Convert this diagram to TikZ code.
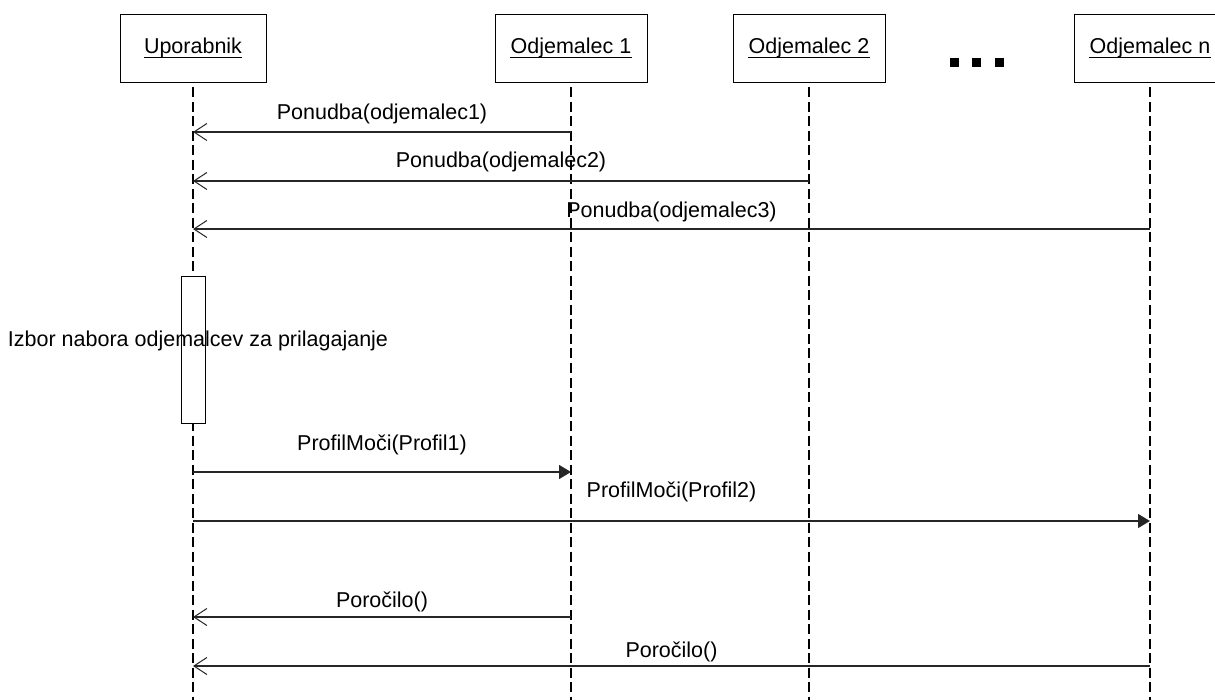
\documentclass[tikz,border=0pt]{standalone}
\usepackage{fontspec}
\setmainfont{Liberation Sans}
\usetikzlibrary{arrows.meta}
\newcommand\fsz{\fontsize{21.5}{24}\selectfont}
\begin{document}
\begin{tikzpicture}[x=1pt,y=-1pt,
  obj/.style={draw, line width=1pt, minimum width=152pt, minimum height=68pt, inner sep=0pt},
  ttl/.style={anchor=base, inner sep=0pt, font=\fsz},
  uline/.style={line width=1pt},
  life/.style={line width=2.6pt, dash pattern=on 10pt off 4.5pt},
  msg/.style={line width=1.2pt, draw=black!85},
  ret/.style={msg, -{Straight Barb[length=13pt,width=17pt,line width=1pt]}},
  call/.style={msg, -{Triangle[length=12pt,width=14pt]}},
  lbl/.style={anchor=base, inner sep=0pt, font=\fsz, text=black},
  dot/.style={fill=black, minimum size=9pt, inner sep=0pt}
]
\useasboundingbox (0,0) rectangle (1215,700);
\clip (0,0) rectangle (1215,700);

% objects
\node[obj, minimum width=146pt] (u) at (193,49) {};
\node[obj] (o1) at (571,49) {};
\node[obj] (o2) at (809,49) {};
\node[obj] (on) at (1150,49) {};

\node[ttl] (ut) at (193,54) {Uporabnik};
\node[ttl] (o1t) at (571,54) {Odjemalec 1};
\node[ttl] (o2t) at (809,54) {Odjemalec 2};
\node[ttl] (ont) at (1150,54) {Odjemalec n};
\foreach \t in {ut,o1t,o2t,ont}
  \draw[uline] ([yshift=-3.8pt]\t.base west) -- ([yshift=-3.8pt]\t.base east);

% dots
\node[dot] (d1) at (954,62.5) {};
\node[dot] (d2) at (976.5,62.5) {};
\node[dot] (d3) at (999,62.5) {};

% lifelines
\coordinate (ue) at (193,700);
\coordinate (o1e) at (571,700);
\coordinate (o2e) at (809,700);
\coordinate (one) at (1150,700);
\draw[life] ([yshift=-4pt]u.south) -- (ue);
\draw[life] ([yshift=-4pt]o1.south) -- (o1e);
\draw[life] ([yshift=-4pt]o2.south) -- (o2e);
\draw[life] ([yshift=-4pt]on.south) -- (one);

% activation
\node[draw, fill=white, line width=1pt, minimum width=24.5pt, minimum height=146pt, inner sep=0pt] (act) at (193.4,350) {};
\node[lbl] (izt) at (198,347) {Izbor nabora odjemalcev za prilagajanje};

% message end points
\coordinate (m1a) at (571,132);  \coordinate (m1b) at (193,132);
\coordinate (m2a) at (809,181);  \coordinate (m2b) at (193,181);
\coordinate (m3a) at (1150,229); \coordinate (m3b) at (193,229);
\coordinate (m4a) at (193,472);  \coordinate (m4b) at (571,472);
\coordinate (m5a) at (193,521);  \coordinate (m5b) at (1150,521);
\coordinate (m6a) at (571,617);  \coordinate (m6b) at (193,617);
\coordinate (m7a) at (1150,666); \coordinate (m7b) at (193,666);

\draw[ret] (m1a) -- (m1b) node[lbl, midway, yshift=12pt] (l1) {Ponudba(odjemalec1)};
\draw[ret] (m2a) -- (m2b) node[lbl, midway, yshift=13pt] (l2) {Ponudba(odjemalec2)};
\draw[ret] (m3a) -- (m3b) node[lbl, midway, yshift=11pt] (l3) {Ponudba(odjemalec3)};
\draw[call] (m4a) -- (m4b) node[lbl, midway, yshift=22pt] (l4) {ProfilMoči(Profil1)};
\draw[call] (m5a) -- (m5b) node[lbl, midway, yshift=24pt] (l5) {ProfilMoči(Profil2)};
\draw[ret] (m6a) -- (m6b) node[lbl, midway, yshift=10pt] (l6) {Poročilo()};
\draw[ret] (m7a) -- (m7b) node[lbl, midway, yshift=9pt] (l7) {Poročilo()};
\end{tikzpicture}
\end{document}
